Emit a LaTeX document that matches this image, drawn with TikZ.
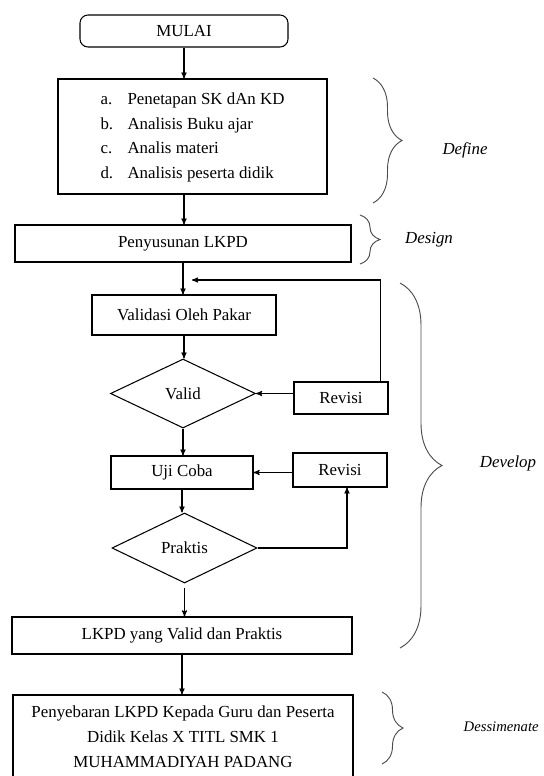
\documentclass[tikz,border=0pt]{standalone}
\usepackage{fontspec}
\setmainfont{Liberation Serif}
\usetikzlibrary{shapes.geometric,arrows,decorations.pathreplacing}
\tikzset{start node/.style={rectangle,rounded corners=0.24cm,draw,line width=0.9pt,inner sep=0pt},
         step node/.style={rectangle,draw,line width=0.9pt,inner sep=0pt,align=center},
         decision node/.style={diamond,draw,line width=0.9pt,inner sep=0pt},
         phase brace/.style={decorate,decoration={brace,amplitude=#1},draw=black!70,line width=0.8pt},
         phase label/.style={font=\fontsize{14.4}{17}\selectfont\itshape}
}

\begin{document}
\begin{tikzpicture}[>=stealth', x=0.03cm, y=-0.03cm, line width=0.9pt, font=\fontsize{14.4}{21.3}\selectfont]

    \useasboundingbox (0,0) rectangle (544,776);

    % main column
    \node[start node, minimum width=6.24cm, minimum height=0.96cm] (mulai) at (184,31) {MULAI};
    \node[step node, minimum width=8.07cm, minimum height=3.45cm] (define) at (192.5,136.5)
        {\begin{tabular}{@{}p{0.81cm}@{}l@{}}
            a. & Penetapan SK dAn KD\\
            b. & Analisis Buku ajar\\
            c. & Analis materi\\
            d. & Analisis peserta didik
        \end{tabular}};
    \node[step node, minimum width=10.08cm, minimum height=1.11cm] (design) at (183,243.5) {Penyusunan LKPD};
    \node[step node, minimum width=5.52cm, minimum height=1.2cm] (validasi) at (184,315) {Validasi Oleh Pakar};
    \node[decision node, minimum width=4.35cm, minimum height=2.07cm] (valid) at (183,393.5) {Valid};
    \node[step node, minimum width=2.82cm, minimum height=0.96cm] (revisi1) at (341,398) {Revisi};
    \node[step node, minimum width=4.26cm, minimum height=0.99cm] (ujicoba) at (182,472.5) {Uji Coba};
    \node[step node, minimum width=2.82cm, minimum height=1.02cm] (revisi2) at (340,470) {Revisi};
    \node[decision node, minimum width=4.35cm, minimum height=2.1cm] (praktis) at (184.5,548) {Praktis};
    \node[step node, minimum width=10.2cm, minimum height=1.11cm] (lkpd) at (182,635.5) {LKPD yang Valid dan Praktis};
    \node[step node, minimum width=10.2cm, minimum height=2.52cm] (sebar) at (183,737)
        {Penyebaran LKPD Kepada Guru dan Peserta\\ Didik Kelas X TITL SMK 1\\ MUHAMMADIYAH PADANG};

    % arrows
    \draw[->] (mulai.south) -- (mulai.south |- define.north);
    \draw[->] (define.south -| mulai) -- (design.north -| mulai);
    \draw[->] (design.south) -- (design.south |- validasi.north);
    \draw[->] (validasi.south) -- (validasi.south |- valid.north);
    \draw[->] (valid.south) -- (valid.south |- ujicoba.north);
    \draw[->] (ujicoba.south) -- (ujicoba.south |- praktis.north);
    \draw[->] ([yshift=-0.12cm]praktis.south) -- (praktis.south |- lkpd.north);
    \draw[->] (lkpd.south) -- (lkpd.south |- sebar.north);

    % revisions
    \coordinate (back) at (192,280);
    \draw[->] (revisi1.west |- valid) -- (valid.east);
    \draw[->] ([xshift=-0.24cm]revisi1.north east) |- (back);
    \draw[->] (revisi2.west |- ujicoba) -- (ujicoba.east);
    \draw[->] (praktis.east) -| ([xshift=0.21cm]revisi2.south);

    % phases
    \draw[phase brace=0.87cm] (373,78) -- (373,203);
    \node[phase label] (definelbl) at (465,150) {Define};
    \draw[phase brace=0.6cm] (360,215) -- (360,264);
    \node[phase label] (designlbl) at (429,240) {Design};
    \draw[phase brace=1.26cm] (400,283) -- (400,648);
    \node[phase label] (developlbl) at (508,463) {Develop};
    \draw[phase brace=0.63cm] (382,692) -- (382,764);
    \node[phase label, font=\fontsize{12.5}{15}\selectfont\itshape, anchor=east] (dessimenatelbl) at (543,727) {Dessimenate};

\end{tikzpicture}
\end{document}
